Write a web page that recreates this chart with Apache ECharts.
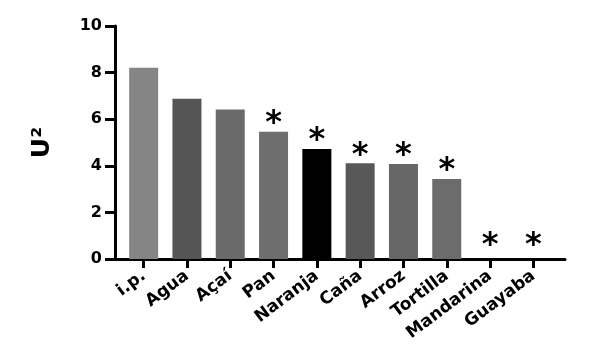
<!DOCTYPE html>
<html><head><meta charset="utf-8">
<script src="https://cdn.jsdelivr.net/npm/echarts@6/dist/echarts.min.js"></script>
<style>html,body{margin:0;padding:0;background:#fff}#c{width:590px;height:358px}</style>
</head><body><div id="c"></div>
<script>
var categories = ['i.p.', 'Agua', 'Açaí', 'Pan', 'Naranja', 'Caña', 'Arroz', 'Tortilla', 'Mandarina', 'Guayaba'];
var values = [8.21, 6.88, 6.42, 5.46, 4.72, 4.11, 4.08, 3.43, 0, 0];
var barColors = ['#858585', '#555555', '#6a6a6a', '#6e6e6e', '#000000', '#585858', '#676767', '#6c6c6c', '#6c6c6c', '#6c6c6c'];
var significant = [false, false, false, true, true, true, true, true, true, true];
var yTicks = [0, 2, 4, 6, 8, 10];

var font = 'DejaVu Sans, Liberation Sans, sans-serif';
var chart = echarts.init(document.getElementById('c'), null, {renderer: 'canvas'});
var data = values.map(function (v, i) {
  return {
    value: v,
    itemStyle: {color: barColors[i]},
    label: {
      show: significant[i],
      distance: v === 0 ? -3 : -8
    }
  };
});
chart.setOption({
  animation: false,
  grid: [
    {left: 122, right: 35, top: 26, bottom: 99, containLabel: false},
    {left: 115, right: 25, top: 26, bottom: 99, containLabel: false}
  ],
  xAxis: [
    {
      type: 'category', gridIndex: 0, data: categories,
      axisLine: {show: false},
      axisTick: {show: true, alignWithLabel: true, length: 9, lineStyle: {color: '#000', width: 3}},
      axisLabel: {rotate: 37, interval: 0, margin: 15, color: '#000', fontFamily: font, fontWeight: 'bold', fontSize: 17}
    },
    {
      type: 'value', gridIndex: 1, min: 0, max: 1,
      axisLine: {show: true, lineStyle: {color: '#000', width: 3}},
      axisTick: {show: false}, axisLabel: {show: false}, splitLine: {show: false}
    }
  ],
  yAxis: [
    {
      type: 'value', gridIndex: 0, min: yTicks[0], max: yTicks[yTicks.length - 1], interval: 2,
      offset: 7,
      name: 'U²', nameLocation: 'middle', nameGap: 60, nameRotate: 90,
      nameTextStyle: {color: '#000', fontFamily: font, fontWeight: 'bold', fontSize: 25},
      axisLine: {show: true, lineStyle: {color: '#000', width: 3}},
      axisTick: {show: true, length: 10, lineStyle: {color: '#000', width: 3}},
      axisLabel: {margin: 13, color: '#000', fontFamily: font, fontWeight: 'bold', fontSize: 16},
      splitLine: {show: false}
    },
    {type: 'value', gridIndex: 1, show: false}
  ],
  series: [{
    type: 'bar', xAxisIndex: 0, yAxisIndex: 0,
    barWidth: 29,
    data: data,
    label: {
      position: 'top', formatter: '*', color: '#000',
      fontFamily: font, fontWeight: 'bold', fontSize: 32
    }
  }]
});
</script></body></html>
